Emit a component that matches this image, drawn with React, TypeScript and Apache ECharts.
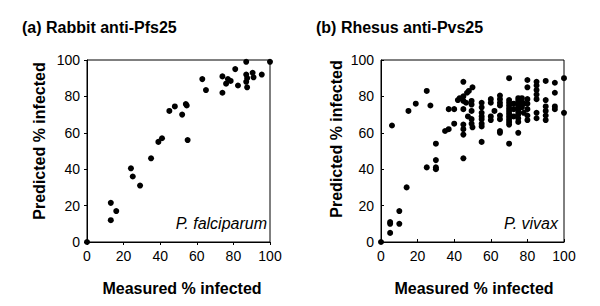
import React, { useEffect, useRef } from "react";
import * as echarts from "echarts";

// (a) Rabbit anti-Pfs25 — P. falciparum
const pfsMeasured = [0, 13, 13, 16, 24, 25, 29, 35, 39, 41, 45, 48, 52, 54, 54.5, 55, 63, 65, 74, 74, 76, 77, 78.5, 81, 82.5, 87, 87, 87.5, 87, 87.5, 90.5, 91, 95.5, 100];
const pfsPredicted = [0, 21.5, 12, 17, 40.5, 36, 31, 46, 55, 57, 72, 74.5, 70, 75.8, 75, 56, 89.5, 83.5, 82, 91, 87, 89.5, 88.5, 95, 86, 99, 92, 90, 88, 85, 93, 90.5, 92, 99];

// (b) Rhesus anti-Pvs25 — P. vivax
const pvsMeasured = [
  0, 5, 5, 5, 6, 10, 10, 14, 15, 19, 25, 27, 25, 30, 30, 30, 30, 35, 37, 37, 40, 40, 42, 43,
  45, 45, 47, 48, 50, 45, 46.5, 49.5, 49.5, 45, 49.5, 47.5, 45, 45, 45, 45, 49.5, 49.5, 50,
  55, 55, 55, 55, 55, 55, 55, 55,
  60, 60, 60, 60, 62,
  65, 65, 65, 65, 65, 65, 65, 65,
  70, 70, 70, 70, 70, 70, 70, 70, 70, 70, 70, 70,
  72.5, 72.5, 72.5,
  75, 75, 75, 75, 75, 75, 75, 75, 75, 75,
  77, 77, 77, 78, 78,
  80, 80, 80, 80, 80, 80, 80,
  85, 85, 85, 85, 85, 85, 85,
  90, 90, 90, 90, 90, 90,
  95, 95, 95, 95,
  100, 100,
];
const pvsPredicted = [
  0, 5, 10, 11, 64, 17, 10, 30, 72, 76, 83, 75, 41, 54, 45, 41, 40, 61, 62, 73, 73, 65, 78, 79,
  88, 80, 82, 83, 85, 77.5, 76.5, 77.5, 75.5, 73, 72, 69, 64.5, 62, 59, 46, 67.5, 65, 63,
  76.5, 74, 71, 69, 67.5, 65, 63.5, 55,
  78.5, 76.5, 69, 67, 72,
  80.5, 78.5, 76.5, 75, 69.5, 67.5, 61, 60,
  90, 78, 76.5, 75, 73.5, 72, 70.5, 69, 67.5, 66, 64.5, 54,
  76, 73, 69,
  79, 77.5, 76, 74.5, 73, 71.5, 70, 68, 66, 60,
  79, 77, 74, 76, 71,
  89, 85, 78.5, 76, 73, 69.5, 67,
  88, 86, 83.5, 81, 78.5, 71, 68,
  88.5, 78, 74.5, 72, 69.5, 67,
  87.5, 82, 74.5, 73,
  90, 71,
];

const tickValues = [0, 20, 40, 60, 80, 100];

const FONT = '"Liberation Sans", Arial, Helvetica, sans-serif';

function pairs(xs: number[], ys: number[]) {
  return xs.map((x, i) => [x, ys[i]]);
}

export default function App() {
  const ref = useRef<HTMLDivElement>(null);
  useEffect(() => {
    const chart = echarts.init(ref.current!, null, { renderer: "svg" });
    const mkAxis = (gi: number, inside: boolean) => ({
      type: "value",
      gridIndex: gi,
      min: tickValues[0],
      max: tickValues[tickValues.length - 1],
      interval: tickValues[1] - tickValues[0],
      axisLine: { show: true, onZero: false, lineStyle: { color: "#000", width: 1 } },
      axisTick: { show: true, inside, length: 3, lineStyle: { color: "#000" } },
      axisLabel: { color: "#000", fontSize: 14, fontFamily: FONT, margin: 7 },
      splitLine: { show: false },
    });
    const textStyle = (text: string, extra: any) => ({
      text,
      fill: "#000",
      fontFamily: FONT,
      fontSize: 16,
      ...extra,
    });
    chart.setOption({
      animation: false,
      backgroundColor: "#fff",
      grid: [
        { left: 87, top: 60, width: 183, height: 182, show: true, borderColor: "#000", borderWidth: 1, backgroundColor: "transparent" },
        { left: 381, top: 60, width: 183, height: 182, show: true, borderColor: "#000", borderWidth: 1, backgroundColor: "transparent" },
      ],
      xAxis: [mkAxis(0, false), mkAxis(1, true)],
      yAxis: [mkAxis(0, false), mkAxis(1, true)],
      series: [
        {
          type: "scatter",
          xAxisIndex: 0,
          yAxisIndex: 0,
          data: pairs(pfsMeasured, pfsPredicted),
          symbolSize: 6,
          clip: false,
          itemStyle: { color: "#000", opacity: 1 },
        },
        {
          type: "scatter",
          xAxisIndex: 1,
          yAxisIndex: 1,
          data: pairs(pvsMeasured, pvsPredicted),
          symbolSize: 6,
          clip: false,
          itemStyle: { color: "#000", opacity: 1 },
        },
      ],
      graphic: [
        { type: "text", x: 22, y: 27, style: textStyle("(a) Rabbit anti-Pfs25", { fontWeight: "bold", verticalAlign: "middle", align: "left" }) },
        { type: "text", x: 316, y: 27, style: textStyle("(b) Rhesus anti-Pvs25", { fontWeight: "bold", verticalAlign: "middle", align: "left" }) },
        { type: "text", x: 267, y: 223, style: textStyle("P. falciparum", { fontStyle: "italic", verticalAlign: "middle", align: "right" }) },
        { type: "text", x: 558, y: 223, style: textStyle("P. vivax", { fontStyle: "italic", verticalAlign: "middle", align: "right" }) },
        { type: "text", x: 39, y: 141, rotation: Math.PI / 2, style: textStyle("Predicted % infected", { fontWeight: "bold", verticalAlign: "middle", align: "center" }) },
        { type: "text", x: 336, y: 139, rotation: Math.PI / 2, style: textStyle("Predicted % infected", { fontWeight: "bold", verticalAlign: "middle", align: "center" }) },
        { type: "text", x: 182, y: 288, style: textStyle("Measured % infected", { fontWeight: "bold", verticalAlign: "middle", align: "center" }) },
        { type: "text", x: 474, y: 288, style: textStyle("Measured % infected", { fontWeight: "bold", verticalAlign: "middle", align: "center" }) },
      ],
    });
    return () => chart.dispose();
  }, []);
  return (
    <div
      ref={ref}
      style={{ position: "fixed", left: 0, top: 0, width: 600, height: 306, background: "#fff" }}
    />
  );
}
